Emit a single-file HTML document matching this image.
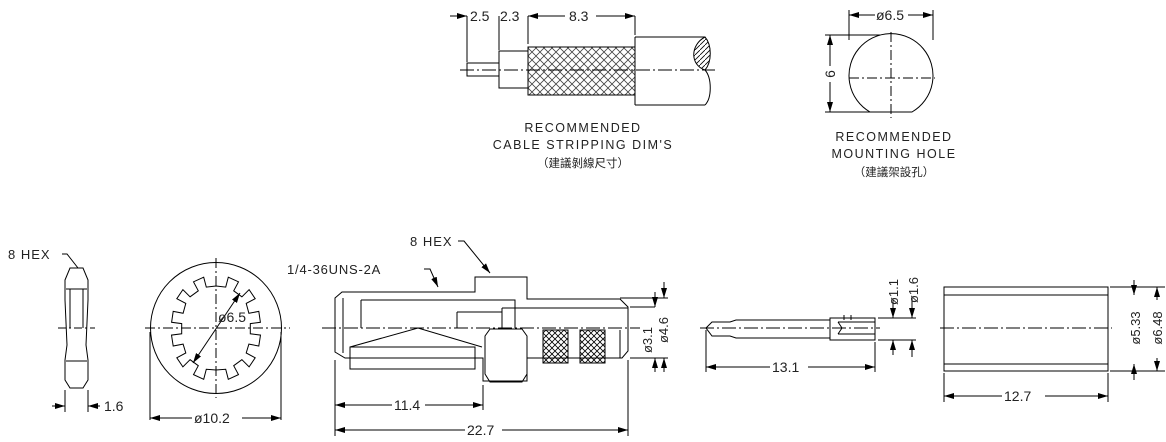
<!DOCTYPE html>
<html><head><meta charset="utf-8"><style>
html,body{margin:0;padding:0;background:#fff;}
svg{display:block;}
text{font-family:"Liberation Sans","Noto Sans CJK TC",sans-serif;fill:#222;}
</style></head><body>
<svg width="1166" height="442" viewBox="0 0 1166 442" xmlns="http://www.w3.org/2000/svg">
<defs>
<marker id="a" viewBox="0 0 10 6" refX="10" refY="3" markerWidth="10" markerHeight="6" orient="auto-start-reverse" markerUnits="userSpaceOnUse"><path d="M0,0 L10,3 L0,6z" fill="#000"/></marker>
<pattern id="braid" width="8" height="8" patternUnits="userSpaceOnUse"><path d="M0,8 L8,0 M0,0 L8,8" stroke="#444" stroke-width="0.8"/></pattern>
<pattern id="x" width="6" height="6" patternUnits="userSpaceOnUse"><path d="M0,6 L6,0 M0,0 L6,6" stroke="#000" stroke-width="0.8"/></pattern>
<pattern id="h" width="5" height="5" patternUnits="userSpaceOnUse"><path d="M0,5 L5,0" stroke="#000" stroke-width="0.8"/></pattern>
</defs>
<g fill="none" stroke="#000" stroke-width="1">
<!-- cable stripping -->
<path d="M467,16V62 M499,16V50 M528,16V44 M635,16V35"/>
<path d="M450,16H467" marker-end="url(#a)"/>
<path d="M528,16H565 M596,16H635" marker-start="url(#a)" marker-end="url(#a)"/>
<rect x="467" y="63" width="32" height="13"/>
<rect x="499" y="51" width="29" height="37"/>
<rect x="528" y="47" width="107" height="48" fill="url(#braid)"/>
<path d="M635,37H705 M635,105H705 M635,37V105"/>
<path d="M705,37 C 690,45 690,65 705,70 C 712,62 712,45 705,37Z" fill="url(#h)"/>
<path d="M705,70 C 712,78 712,98 705,105"/>
<path d="M460,70H715" stroke-dasharray="14,3,2,3"/>
<!-- mounting hole -->
<path d="M870,112 A42,42 0 1 1 912,112 Z"/>
<path d="M849,78H935 M891,32V118" stroke-dasharray="10,3,2,3"/>
<path d="M849,10V40 M933,10V40"/>
<path d="M849,15H875 M908,15H933" marker-start="url(#a)" marker-end="url(#a)"/>
<path d="M825,35H880 M825,112H870"/>
<path d="M830,35V66 M830,82V112" marker-start="url(#a)" marker-end="url(#a)"/>
<!-- hex nut side -->
<path d="M70,268L83,268L88,280V300L86,345L88,360V380L83,388H70L65,380V360L67,345L65,300V280Z"/>
<path d="M66,289H87 M66,361H87 M70,289V328 M83,289V328"/>
<path d="M58,328H95" stroke-dasharray="8,3,2,3"/>
<path d="M65,390V412 M88,390V412"/>
<path d="M52,406H65" marker-end="url(#a)"/>
<path d="M100,406H88" marker-end="url(#a)"/>
<path d="M62,254H67L78,268"/>
<!-- washer front -->
<circle cx="216" cy="328" r="65.5"/>
<path d="M145,328H290 M216,258V398" stroke-dasharray="10,3,2,3"/>
<path d="M150,332V420 M281,332V420"/>
<path d="M150,418H192 M242,418H281" marker-start="url(#a)" marker-end="url(#a)"/>
<path d="M240,293L193,363" marker-start="url(#a)" marker-end="url(#a)"/>
<!-- main body -->
<path d="M335,298L342,292H475V277H527V299H620L628,307V351L622,358H527V381H483V358H345L335,352Z"/>
<path d="M343,298V353"/>
<path d="M361,300V328 M361,300H515V328 M457,312H502 M457,312V328 M502,308V328 M502,308H628"/>
<path d="M350,347L418,328L482,347"/>
<path d="M350,347H475V369H350Z"/>
<path d="M490,329H522L527,336V374L522,382H490L485,374V336Z"/>
<rect x="543" y="330" width="25" height="33" fill="url(#x)"/>
<rect x="580" y="330" width="25" height="33" fill="url(#x)"/>
<path d="M620,330V358"/>
<path d="M322,328H640" stroke-dasharray="14,3,2,3"/>
<path d="M335,360V436 M483,385V410 M628,360V436"/>
<path d="M335,405H392 M425,405H483" marker-start="url(#a)" marker-end="url(#a)"/>
<path d="M335,430H465 M502,430H628" marker-start="url(#a)" marker-end="url(#a)"/>
<path d="M620,298H668 M630,307H655 M630,358H668"/>
<path d="M655,292V307" marker-end="url(#a)"/>
<path d="M655,372V358" marker-end="url(#a)"/>
<path d="M664,282V298" marker-end="url(#a)"/>
<path d="M664,372V358" marker-end="url(#a)"/>
<path d="M458,241H464L490,273" marker-end="url(#a)"/>
<path d="M424,269H430L438,287" marker-end="url(#a)"/>
<!-- pin -->
<path d="M706,328L712,322H730L736,320H830V318H875V340H830V338H736L730,336H712Z"/>
<path d="M830,318V340 M838,322L842,328L838,334 M838,322H875 M838,334H875 M844,315V320 M851,315V320"/>
<path d="M700,328H880" stroke-dasharray="14,3,2,3"/>
<path d="M706,330V372 M875,342V372"/>
<path d="M706,367H770 M808,367H875" marker-start="url(#a)" marker-end="url(#a)"/>
<path d="M878,318H916 M878,340H916"/>
<path d="M893,300V318" marker-end="url(#a)"/>
<path d="M893,355V340" marker-end="url(#a)"/>
<path d="M912,298V318" marker-end="url(#a)"/>
<path d="M912,357V340" marker-end="url(#a)"/>
<!-- sleeve -->
<rect x="944" y="287" width="164" height="84"/>
<path d="M944,295H1108 M944,364H1108"/>
<path d="M940,328H1112" stroke-dasharray="14,3,2,3"/>
<path d="M1110,287H1165 M1110,371H1165"/>
<path d="M1134,280V295" marker-end="url(#a)"/>
<path d="M1134,380V364" marker-end="url(#a)"/>
<path d="M1157,300V287" marker-end="url(#a)"/>
<path d="M1157,358V371" marker-end="url(#a)"/>
<path d="M944,373V402 M1108,373V402"/>
<path d="M944,396H1002 M1045,396H1108" marker-start="url(#a)" marker-end="url(#a)"/>
</g>
<path fill="none" stroke="#000" stroke-width="1" d="
M216.0,286.0 L225.7,287.1 L228.3,277.2 L238.5,281.8 L233.7,290.8 L241.9,296.8 L249.1,289.6 L255.2,298.7 L246.2,303.4 L248.9,313.3 L258.8,311.4 L260.4,322.3 L250.3,323.6 L250.3,333.8 L260.5,335.1 L258.8,346.0 L248.9,344.1 L246.2,353.0 L255.2,357.8 L249.1,366.9 L241.9,359.7 L233.7,365.7 L238.5,374.6 L228.3,379.3 L225.7,369.3 L216.0,370.0 L206.3,369.3 L203.7,379.3 L193.5,374.6 L198.3,365.7 L190.1,359.7 L182.9,366.9 L176.8,357.8 L185.8,353.0 L183.1,344.1 L173.2,346.0 L171.5,335.1 L181.7,333.8 L181.7,323.6 L171.6,322.3 L173.2,311.4 L183.1,313.3 L185.8,303.4 L176.8,298.7 L182.9,289.6 L190.1,296.8 L198.3,290.8 L193.5,281.8 L203.7,277.2 L206.3,287.1 Z"/>
<g font-size="13">
<text x="470" y="21" font-size="14">2.5</text>
<text x="500" y="21" font-size="14">2.3</text>
<text x="569" y="21" font-size="14">8.3</text>
<text x="583" y="132" text-anchor="middle" font-size="12.5" letter-spacing="1.5">RECOMMENDED</text>
<text x="583" y="149" text-anchor="middle" font-size="12.5" letter-spacing="1.5">CABLE  STRIPPING  DIM'S</text>
<text x="583" y="167" text-anchor="middle" font-size="11.5">（建議剝線尺寸）</text>
<text x="876" y="20" font-size="14">ø6.5</text>
<text x="835" y="74" font-size="14" transform="rotate(-90 835 74)" text-anchor="middle">6</text>
<text x="894" y="141" text-anchor="middle" font-size="12.5" letter-spacing="1.5">RECOMMENDED</text>
<text x="894" y="158" text-anchor="middle" font-size="12.5" letter-spacing="1.5">MOUNTING  HOLE</text>
<text x="894" y="176" text-anchor="middle" font-size="11.5">（建議架設孔）</text>
<text x="8" y="259" font-size="13" letter-spacing="1">8  HEX</text>
<text x="104" y="411" font-size="14">1.6</text>
<text x="194" y="423" font-size="14">ø10.2</text>
<text x="218" y="322" font-size="14">ø6.5</text>
<text x="410" y="246" font-size="13" letter-spacing="1">8  HEX</text>
<text x="287" y="274" font-size="13" letter-spacing="0.8">1/4-36UNS-2A</text>
<text x="394" y="410" font-size="14">11.4</text>
<text x="467" y="435" font-size="14">22.7</text>
<text x="652" y="340" font-size="13" transform="rotate(-90 652 340)" text-anchor="middle">ø3.1</text>
<text x="668" y="330" font-size="13" transform="rotate(-90 668 330)" text-anchor="middle">ø4.6</text>
<text x="772" y="372" font-size="14">13.1</text>
<text x="898" y="292" font-size="13" transform="rotate(-90 898 292)" text-anchor="middle">ø1.1</text>
<text x="918" y="290" font-size="13" transform="rotate(-90 918 290)" text-anchor="middle">ø1.6</text>
<text x="1004" y="401" font-size="14">12.7</text>
<text x="1140" y="328" font-size="13" transform="rotate(-90 1140 328)" text-anchor="middle">ø5.33</text>
<text x="1162" y="328" font-size="13" transform="rotate(-90 1162 328)" text-anchor="middle">ø6.48</text>
</g>
</svg>
</body></html>
